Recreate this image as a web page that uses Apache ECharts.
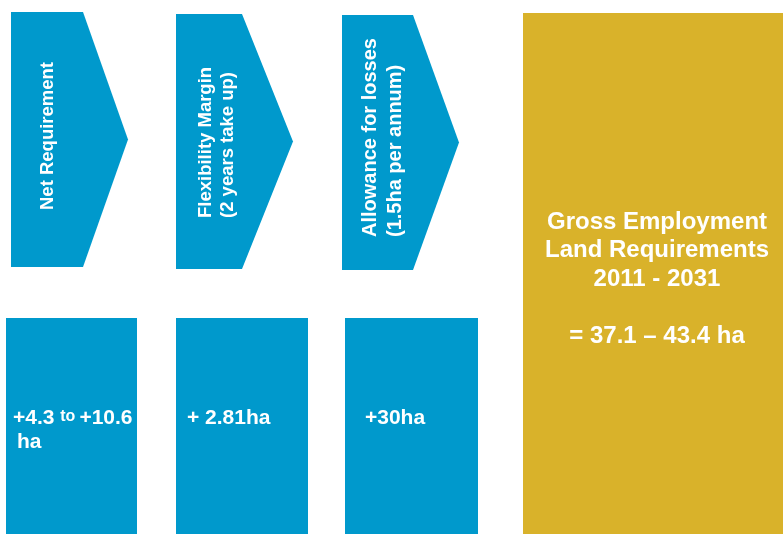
<!DOCTYPE html>
<html>
<head>
<meta charset="utf-8">
<script src="https://cdn.jsdelivr.net/npm/echarts@6/dist/echarts.min.js"></script>
<style>
  html, body { margin: 0; padding: 0; background: #ffffff; }
  #main { width: 783px; height: 534px; }
</style>
</head>
<body>
<div id="main"></div>
<script>
// ---- data ----
const stepTitles = [
  'Net Requirement',
  'Flexibility Margin\n(2 years take up)',
  'Allowance for losses\n(1.5ha per annum)'
];
const stepValues = [
  '{b|+4.3} {s|to}{b|+10.6}\n{h|ha}',
  '+ 2.81ha',
  '+30ha'
];
const totalTitle = ['Gross Employment', 'Land Requirements', '2011 - 2031'];
const totalValue = '= 37.1 \u2013 43.4 ha';

// ---- layout (pixel space) ----
const W = 783, H = 534;
const BLUE = '#0099cc', GOLD = '#d9b22a';
const FONT = '"Liberation Sans", Arial, sans-serif';
const arrows = [
  { x: 11, top: 12, rectRight: 83, tip: 128, bottom: 267, tx: 48, ty: 210, fs: 18.5, lh: 22 },
  { x: 176, top: 14, rectRight: 242, tip: 293, bottom: 269, tx: 217, ty: 218, fs: 18.5, lh: 22 },
  { x: 342, top: 15, rectRight: 413, tip: 459, bottom: 270, tx: 383, ty: 237, fs: 20, lh: 25 }
];
const boxes = [
  { x: 6, right: 137, top: 318, tx: 13, ty: 430 },
  { x: 176, right: 308, top: 318, tx: 187, ty: 418 },
  { x: 345, right: 478, top: 318, tx: 365, ty: 418 }
];
const gold = { x: 523, right: 783, top: 13, cx: 657, cy: 279 };

const chart = echarts.init(document.getElementById('main'), null, { renderer: 'canvas' });

function P(api, x, y) { return api.coord([x, y]); }

function renderStep(params, api) {
  const i = api.value(0);
  const a = arrows[i], b = boxes[i];
  const p1 = P(api, a.x, a.top), p2 = P(api, a.rectRight, a.top), p3 = P(api, a.tip, (a.top + a.bottom) / 2),
        p4 = P(api, a.rectRight, a.bottom), p5 = P(api, a.x, a.bottom);
  const bt = P(api, b.x, b.top), bb = P(api, b.right, H);
  const tpos = P(api, a.tx, a.ty);
  const vpos = P(api, b.tx, b.ty);
  return {
    type: 'group',
    children: [
      { type: 'polygon', shape: { points: [p1, p2, p3, p4, p5] }, style: { fill: BLUE } },
      { type: 'rect', shape: { x: bt[0], y: bt[1], width: bb[0] - bt[0], height: bb[1] - bt[1] }, style: { fill: BLUE } },
      {
        type: 'text', x: tpos[0], y: tpos[1], rotation: Math.PI / 2,
        style: {
          text: stepTitles[i], x: 0, y: 0, fill: '#ffffff',
          font: 'bold ' + a.fs + 'px ' + FONT, lineHeight: a.lh,
          align: 'left', verticalAlign: 'middle'
        }
      },
      {
        type: 'text', x: vpos[0], y: vpos[1],
        style: {
          text: stepValues[i], x: 0, y: 0, fill: '#ffffff',
          font: 'bold 21px ' + FONT, lineHeight: 24,
          align: 'left', verticalAlign: 'middle',
          rich: {
            b: { fill: '#ffffff', font: 'bold 21px ' + FONT, lineHeight: 24 },
            h: { fill: '#ffffff', font: 'bold 21px ' + FONT, lineHeight: 24, padding: [0, 0, 0, 4] },
            s: { fill: '#ffffff', font: 'bold 16px ' + FONT, lineHeight: 24, padding: [0, 4, 3, 0] }
          }
        }
      }
    ]
  };
}

function renderTotal(params, api) {
  const t = P(api, gold.x, gold.top), b = P(api, gold.right, H);
  const c = P(api, gold.cx, gold.cy);
  return {
    type: 'group',
    children: [
      { type: 'rect', shape: { x: t[0], y: t[1], width: b[0] - t[0], height: b[1] - t[1] }, style: { fill: GOLD } },
      {
        type: 'text', x: c[0], y: c[1],
        style: {
          text: totalTitle.join('\n') + '\n\n' + totalValue, x: 0, y: 0, fill: '#ffffff',
          font: 'bold 24px ' + FONT, lineHeight: 28.5,
          align: 'center', verticalAlign: 'middle'
        }
      }
    ]
  };
}

chart.setOption({
  animation: false,
  backgroundColor: '#ffffff',
  grid: { left: 0, right: 0, top: 0, bottom: 0 },
  xAxis: { type: 'value', min: 0, max: W, show: false },
  yAxis: { type: 'value', min: 0, max: H, inverse: true, show: false },
  series: [
    { type: 'custom', renderItem: renderStep, data: stepTitles.map((_, i) => [i]), clip: false, silent: true },
    { type: 'custom', renderItem: renderTotal, data: [[0]], clip: false, silent: true }
  ]
});
</script>
</body>
</html>
